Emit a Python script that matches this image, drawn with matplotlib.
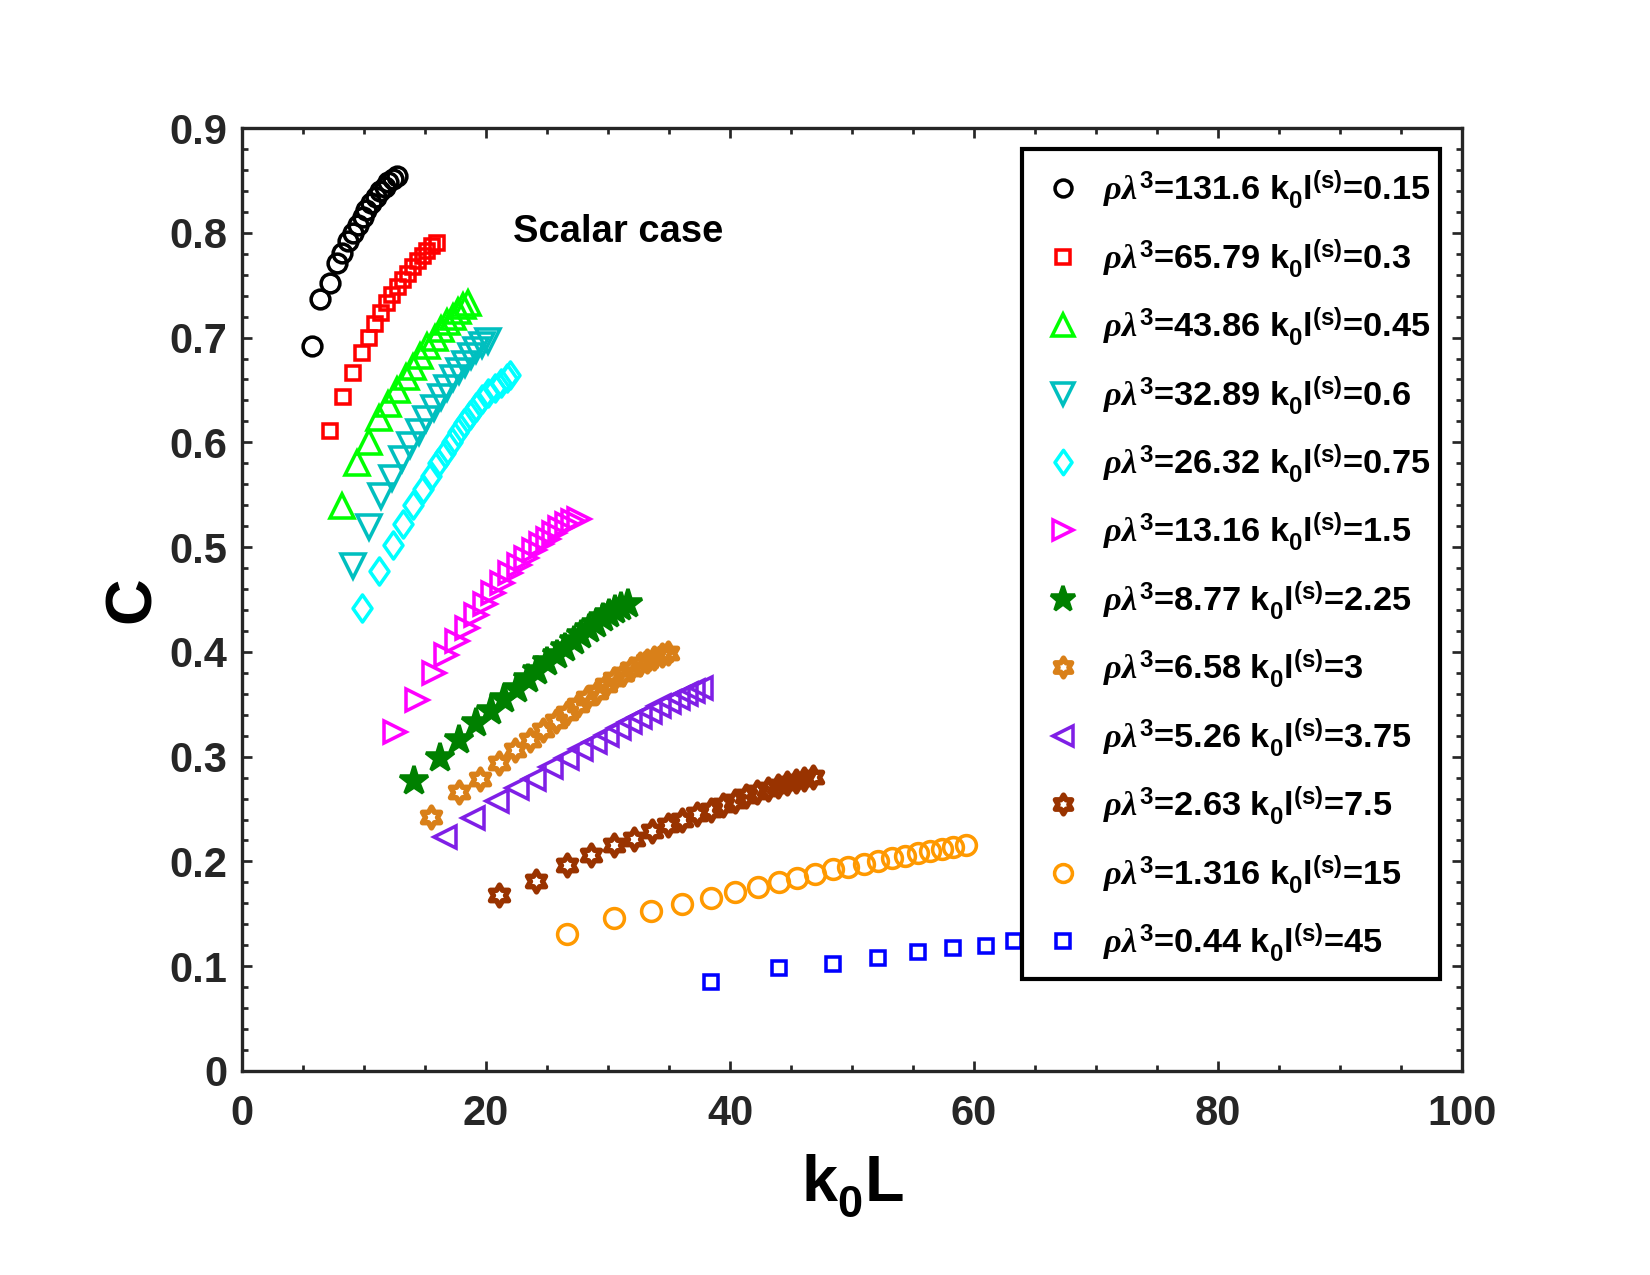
import matplotlib
matplotlib.use('Agg')
import matplotlib.pyplot as plt
import matplotlib._mathtext as mathtext_internal
from matplotlib.path import Path
from matplotlib.patches import Rectangle
from matplotlib.ticker import MultipleLocator

plt.rcParams['font.family'] = 'Liberation Sans'
plt.rcParams['font.weight'] = 'bold'
plt.rcParams['mathtext.fontset'] = 'custom'
plt.rcParams['mathtext.rm'] = 'Liberation Sans:bold'
plt.rcParams['mathtext.bf'] = 'Liberation Sans:bold'
plt.rcParams['mathtext.it'] = 'Liberation Serif:italic'
# MATLAB-like tex: subscripts sit lower
mathtext_internal.FontConstantsBase.sub1 = 0.55
mathtext_internal.FontConstantsBase.sub2 = 0.7

# data
rho = ['131.6', '65.79', '43.86', '32.89', '26.32', '13.16', '8.77', '6.58', '5.26', '2.63', '1.316', '0.44']
kl = ['0.15', '0.3', '0.45', '0.6', '0.75', '1.5', '2.25', '3', '3.75', '7.5', '15', '45']

x1 = [5.7, 6.4, 7.2, 7.8, 8.2, 8.7, 9.1, 9.5, 9.9, 10.2, 10.6, 11.0, 11.3, 11.7, 12.0, 12.4, 12.7]
y1 = [0.692, 0.737, 0.752, 0.771, 0.781, 0.792, 0.800, 0.807, 0.815, 0.822, 0.828, 0.834, 0.840, 0.844, 0.848, 0.851, 0.854]

x2 = [7.2, 8.3, 9.1, 9.8, 10.4, 10.9, 11.4, 11.9, 12.3, 12.8, 13.2, 13.6, 14.0, 14.4, 14.8, 15.2, 15.6, 16.0]
y2 = [0.611, 0.643, 0.666, 0.685, 0.700, 0.713, 0.723, 0.733, 0.741, 0.748, 0.755, 0.761, 0.767, 0.773, 0.778, 0.783, 0.787, 0.790]

x3 = [8.2, 9.4, 10.4, 11.2, 12.0, 12.7, 13.4, 14.0, 14.6, 15.2, 15.8, 16.3, 16.8, 17.3, 17.7, 18.1, 18.5]
y3 = [0.539, 0.580, 0.600, 0.623, 0.637, 0.650, 0.662, 0.672, 0.682, 0.692, 0.700, 0.708, 0.715, 0.720, 0.725, 0.730, 0.733]

x4 = [9.1, 10.4, 11.4, 12.3, 13.1, 13.8, 14.5, 15.1, 15.7, 16.3, 16.8, 17.3, 17.8, 18.3, 18.8, 19.2, 19.7, 20.2]
y4 = [0.482, 0.519, 0.549, 0.566, 0.584, 0.597, 0.610, 0.622, 0.633, 0.643, 0.652, 0.661, 0.668, 0.675, 0.682, 0.688, 0.693, 0.697]

x5 = [9.8, 11.2, 12.4, 13.2, 14.0, 14.8, 15.5, 16.1, 16.6, 17.2, 17.7, 18.2, 18.7, 19.2, 19.7, 20.2, 20.7, 21.2, 21.7, 22.0]
y5 = [0.442, 0.477, 0.502, 0.522, 0.540, 0.555, 0.568, 0.580, 0.590, 0.600, 0.610, 0.618, 0.626, 0.634, 0.641, 0.647, 0.652, 0.657, 0.661, 0.664]

x6 = [12.5, 14.3, 15.7, 16.7, 17.6, 18.4, 19.2, 19.9, 20.6, 21.3, 22.0, 22.7, 23.3, 23.9, 24.5, 25.1, 25.6, 26.1, 26.6, 27.1, 27.6]
y6 = [0.324, 0.354, 0.380, 0.397, 0.410, 0.423, 0.435, 0.446, 0.456, 0.466, 0.475, 0.483, 0.490, 0.497, 0.503, 0.508, 0.513, 0.518, 0.522, 0.525, 0.527]

x7 = [14.1, 16.2, 17.8, 19.2, 20.4, 21.5, 22.5, 23.4, 24.2, 25.0, 25.8, 26.5, 27.2, 27.8, 28.4, 29.0, 29.6, 30.1, 30.6, 31.1, 31.6]
y7 = [0.277, 0.299, 0.316, 0.332, 0.344, 0.355, 0.365, 0.374, 0.382, 0.390, 0.397, 0.404, 0.410, 0.416, 0.422, 0.427, 0.432, 0.436, 0.440, 0.443, 0.446]

x8 = [15.5, 17.8, 19.5, 21.1, 22.4, 23.6, 24.7, 25.7, 26.6, 27.5, 28.3, 29.1, 29.8, 30.5, 31.2, 31.9, 32.6, 33.2, 33.8, 34.4, 34.9]
y8 = [0.242, 0.266, 0.279, 0.294, 0.306, 0.316, 0.325, 0.334, 0.342, 0.349, 0.356, 0.362, 0.368, 0.374, 0.379, 0.384, 0.388, 0.391, 0.394, 0.397, 0.399]

x9 = [16.6, 18.9, 20.9, 22.5, 23.9, 25.3, 26.6, 27.8, 28.9, 29.9, 30.9, 31.8, 32.6, 33.4, 34.2, 35.0, 35.7, 36.4, 37.0, 37.6]
y9 = [0.223, 0.241, 0.258, 0.270, 0.279, 0.290, 0.299, 0.307, 0.314, 0.321, 0.327, 0.333, 0.338, 0.343, 0.348, 0.352, 0.356, 0.360, 0.363, 0.366]

x10 = [21.1, 24.1, 26.6, 28.6, 30.5, 32.1, 33.6, 34.9, 36.1, 37.3, 38.4, 39.4, 40.4, 41.3, 42.2, 43.1, 43.9, 44.7, 45.4, 46.1, 46.8]
y10 = [0.168, 0.181, 0.197, 0.206, 0.216, 0.221, 0.229, 0.235, 0.240, 0.245, 0.249, 0.254, 0.258, 0.262, 0.266, 0.269, 0.272, 0.275, 0.277, 0.279, 0.281]

x11 = [26.6, 30.5, 33.5, 36.1, 38.4, 40.4, 42.3, 44.0, 45.5, 47.0, 48.4, 49.7, 51.0, 52.1, 53.3, 54.3, 55.4, 56.4, 57.4, 58.3, 59.3]
y11 = [0.131, 0.146, 0.153, 0.159, 0.165, 0.171, 0.176, 0.180, 0.184, 0.188, 0.193, 0.195, 0.198, 0.200, 0.203, 0.205, 0.208, 0.210, 0.212, 0.214, 0.216]

x12 = [38.4, 44.0, 48.4, 52.1, 55.4, 58.3, 61.0, 63.3]
y12 = [0.085, 0.098, 0.102, 0.108, 0.114, 0.117, 0.119, 0.124]

hexagram = Path.unit_regular_star(6, 0.577)
diamond = Path([(0, 1), (0.7, 0), (0, -1), (-0.7, 0), (0, 0)], closed=True)

# x, y, marker, colour, size, edge width, filled
series = [
    (x1, y1, 'o', '#000000', 9, 1.7, False),
    (x2, y2, 's', '#FF0000', 7, 1.7, False),
    (x3, y3, '^', '#00FF00', 11.5, 1.7, False),
    (x4, y4, 'v', '#00BFBF', 11.5, 1.7, False),
    (x5, y5, diamond, '#00FFFF', 13, 1.7, False),
    (x6, y6, '>', '#FF00FF', 11, 1.7, False),
    (x7, y7, '*', '#008000', 14, 1.7, True),
    (x8, y8, hexagram, '#D98019', 10, 2.6, False),
    (x9, y9, '<', '#7F1FE6', 11, 1.7, False),
    (x10, y10, hexagram, '#993300', 10, 2.6, False),
    (x11, y11, 'o', '#FF9900', 9.5, 1.7, False),
    (x12, y12, 's', '#0000FF', 7, 1.7, False),
]

fig = plt.figure(figsize=(11, 8.5), dpi=150)
ax = fig.add_axes([0.1467, 0.16, 0.7394, 0.7396])

for i, (xs, ys, mk, col, ms, mew, filled) in enumerate(series):
    lab = r'$\rho\lambda^{3}$=' + rho[i] + r' k$_{0}$l$^{\mathrm{(s)}}$=' + kl[i]
    ax.plot(xs, ys, linestyle='none', marker=mk, color=col, markersize=ms,
            markerfacecolor=col if filled else 'none', markeredgewidth=mew,
            label=lab)

ax.text(22.2, 0.801, 'Scalar case', fontsize=18.3, fontweight='bold', va='center')

ax.set_xlim(0, 100)
ax.set_ylim(0, 0.9)
ax.xaxis.set_major_locator(MultipleLocator(20))
ax.xaxis.set_minor_locator(MultipleLocator(5))
ax.yaxis.set_minor_locator(MultipleLocator(0.02))
ax.set_yticks([0, 0.1, 0.2, 0.3, 0.4, 0.5, 0.6, 0.7, 0.8, 0.9])
ax.set_yticklabels(['0', '0.1', '0.2', '0.3', '0.4', '0.5', '0.6', '0.7', '0.8', '0.9'])

dark = '#262626'
for s in ax.spines.values():
    s.set_linewidth(1.6)
    s.set_color(dark)
ax.tick_params(which='both', direction='in', top=True, right=True, color=dark,
               labelcolor=dark, labelsize=20, width=1.3)
ax.tick_params(which='major', length=5)
ax.tick_params(which='minor', length=3)
ax.tick_params(axis='x', pad=11)
ax.tick_params(axis='y', pad=7)

ax.set_xlabel(r'k$_{0}$L', fontsize=31, fontweight='bold', labelpad=9)
ax.set_ylabel('C', fontsize=31, fontweight='bold', labelpad=3)

# legend box drawn separately so the padding can match the original
ax.add_patch(Rectangle((0.6392, 0.098), 0.3424, 0.8793, transform=ax.transAxes,
                       facecolor='white', edgecolor='black', linewidth=2, zorder=4))
leg = ax.legend(loc='upper left', bbox_to_anchor=(0.6587, 0.9566), fontsize=16.5,
                frameon=False, handlelength=1.0, handletextpad=0.66, borderpad=0,
                labelspacing=0.735, borderaxespad=0, markerscale=0.9)
leg.set_zorder(5)

fig.savefig('out.png', dpi=150)
